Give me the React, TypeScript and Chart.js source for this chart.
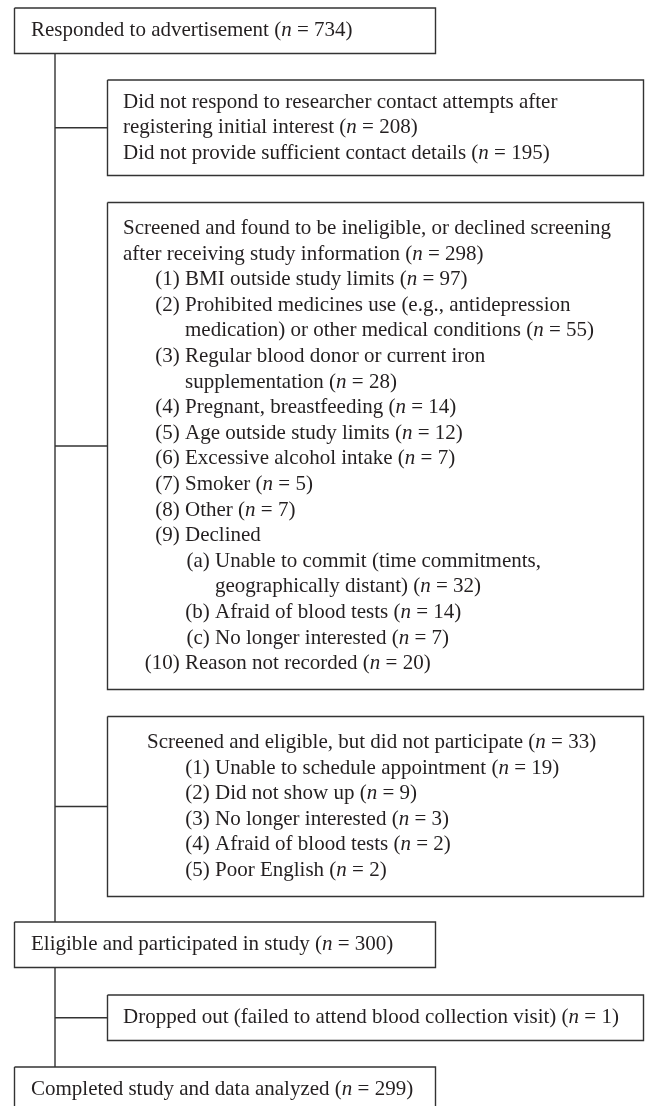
import { useEffect, useRef } from "react";
import { Chart, registerables } from "chart.js";

Chart.register(...registerables);

// ---------------- data ----------------
const stageLabels = [
  "Responded to advertisement",
  "Eligible and participated in study",
  "Completed study and data analyzed",
];
const stageCounts = [734, 300, 299];

const noContactReasons = [
  "Did not respond to researcher contact attempts after\nregistering initial interest",
  "Did not provide sufficient contact details",
];
const noContactCounts = [208, 195];

const ineligibleHeader =
  "Screened and found to be ineligible, or declined screening\nafter receiving study information";
const ineligibleTotal = 298;
const ineligibleLabels = ["(1)", "(2)", "(3)", "(4)", "(5)", "(6)", "(7)", "(8)", "(9)", "(a)", "(b)", "(c)", "(10)"];
const ineligibleReasons = [
  "BMI outside study limits",
  "Prohibited medicines use (e.g., antidepression\nmedication) or other medical conditions",
  "Regular blood donor or current iron\nsupplementation",
  "Pregnant, breastfeeding",
  "Age outside study limits",
  "Excessive alcohol intake",
  "Smoker",
  "Other",
  "Declined",
  "Unable to commit (time commitments,\ngeographically distant)",
  "Afraid of blood tests",
  "No longer interested",
  "Reason not recorded",
];
const ineligibleCounts: (number | null)[] = [97, 55, 28, 14, 12, 7, 5, 7, null, 32, 14, 7, 20];
const ineligibleLevels = [1, 1, 1, 1, 1, 1, 1, 1, 1, 2, 2, 2, 1];

const notParticipatedHeader = "Screened and eligible, but did not participate";
const notParticipatedTotal = 33;
const notParticipatedLabels = ["(1)", "(2)", "(3)", "(4)", "(5)"];
const notParticipatedReasons = [
  "Unable to schedule appointment",
  "Did not show up",
  "No longer interested",
  "Afraid of blood tests",
  "Poor English",
];
const notParticipatedCounts = [19, 9, 3, 2, 2];

const droppedLabel = "Dropped out (failed to attend blood collection visit)";
const droppedCount = 1;

// ---------------- layout / style ----------------
const W = 645;
const H = 1106;
const SPINE_X = 55;
const LEFT_L = 14.5;
const LEFT_R = 435.5;
const RIGHT_L = 107.5;
const RIGHT_R = 643.5;
const STAGE_TOPS = [8, 922, 1067];
const STAGE_H = 45.5;
const LINE_H = 25.6;
const FONT_SIZE = 21;
const FONT_FAMILY = '"Liberation Serif", "Times New Roman", serif';
const TEXT_COLOR = "#231f20";
const LINE_COLOR = "#333333";

type Line = { level: number; label?: string; text: string; n?: number | null };
type Box = { l: number; r: number; t: number; b: number; levelX: number[]; lines: Line[] };

function expand(level: number, text: string, n: number | null | undefined, label?: string): Line[] {
  const parts = text.split("\n");
  return parts.map((p, i) => ({
    level,
    label: i === 0 ? label : undefined,
    text: p,
    n: i === parts.length - 1 ? n : undefined,
  }));
}

function buildBoxes(): Box[] {
  const boxes: Box[] = [];
  stageLabels.forEach((s, i) => {
    boxes.push({
      l: LEFT_L,
      r: LEFT_R,
      t: STAGE_TOPS[i],
      b: STAGE_TOPS[i] + STAGE_H,
      levelX: [31],
      lines: expand(0, s, stageCounts[i]),
    });
  });
  const b2: Line[] = [];
  noContactReasons.forEach((r, i) => b2.push(...expand(0, r, noContactCounts[i])));
  boxes.push({ l: RIGHT_L, r: RIGHT_R, t: 80, b: 175.5, levelX: [123], lines: b2 });
  const b3: Line[] = [...expand(0, ineligibleHeader, ineligibleTotal)];
  ineligibleReasons.forEach((r, i) =>
    b3.push(...expand(ineligibleLevels[i], r, ineligibleCounts[i], ineligibleLabels[i]))
  );
  boxes.push({ l: RIGHT_L, r: RIGHT_R, t: 202.5, b: 689.5, levelX: [123, 185, 215], lines: b3 });
  const b4: Line[] = [...expand(0, notParticipatedHeader, notParticipatedTotal)];
  notParticipatedReasons.forEach((r, i) =>
    b4.push(...expand(1, r, notParticipatedCounts[i], notParticipatedLabels[i]))
  );
  boxes.push({ l: RIGHT_L, r: RIGHT_R, t: 716.5, b: 896.5, levelX: [147, 215], lines: b4 });
  boxes.push({ l: RIGHT_L, r: RIGHT_R, t: 995, b: 1040.5, levelX: [123], lines: expand(0, droppedLabel, droppedCount) });
  return boxes;
}

function rectPoints(b: Box) {
  return [
    { x: b.l, y: b.t },
    { x: b.r, y: b.t },
    { x: b.r, y: b.b },
    { x: b.l, y: b.b },
    { x: b.l, y: b.t },
  ];
}

export default function App() {
  const ref = useRef<HTMLCanvasElement | null>(null);

  useEffect(() => {
    if (!ref.current) return;
    const boxes = buildBoxes();
    const lineStyle = {
      showLine: true,
      pointRadius: 0,
      borderColor: LINE_COLOR,
      borderWidth: 1.4,
      fill: false,
      tension: 0,
    };
    const datasets: any[] = boxes.map((b) => ({ ...lineStyle, data: rectPoints(b) }));
    datasets.push({ ...lineStyle, data: [{ x: SPINE_X, y: boxes[0].b }, { x: SPINE_X, y: boxes[1].t }] });
    datasets.push({ ...lineStyle, data: [{ x: SPINE_X, y: boxes[1].b }, { x: SPINE_X, y: boxes[2].t }] });
    boxes.slice(3).forEach((b) => {
      const m = (b.t + b.b) / 2;
      datasets.push({ ...lineStyle, data: [{ x: SPINE_X, y: m }, { x: b.l, y: m }] });
    });

    const textPlugin = {
      id: "flowText",
      afterDatasetsDraw(chart: any) {
        const ctx: CanvasRenderingContext2D = chart.ctx;
        const xs = chart.scales.x;
        const ys = chart.scales.y;
        const regular = `${FONT_SIZE}px ${FONT_FAMILY}`;
        const italic = `italic ${FONT_SIZE}px ${FONT_FAMILY}`;
        ctx.save();
        ctx.fillStyle = TEXT_COLOR;
        ctx.textBaseline = "middle";
        boxes.forEach((b) => {
          const c = (b.t + b.b) / 2;
          const y0 = c - ((b.lines.length - 1) / 2) * LINE_H;
          b.lines.forEach((ln, i) => {
            const py = ys.getPixelForValue(y0 + i * LINE_H);
            let px = xs.getPixelForValue(b.levelX[ln.level]);
            ctx.font = regular;
            const sp = ctx.measureText(" ").width;
            if (ln.label) {
              ctx.textAlign = "right";
              ctx.fillText(ln.label, px - sp, py);
            }
            ctx.textAlign = "left";
            let s = ln.text;
            if (ln.n !== undefined && ln.n !== null) s += " (";
            ctx.fillText(s, px, py);
            px += ctx.measureText(s).width;
            if (ln.n !== undefined && ln.n !== null) {
              ctx.font = italic;
              ctx.fillText("n", px, py);
              px += ctx.measureText("n").width;
              ctx.font = regular;
              ctx.fillText(" = " + ln.n + ")", px, py);
            }
          });
        });
        ctx.restore();
      },
    };

    const chart = new Chart(ref.current, {
      type: "scatter",
      data: { datasets },
      options: {
        animation: false,
        responsive: false,
        maintainAspectRatio: false,
        devicePixelRatio: 1,
        layout: { padding: 0 },
        events: [],
        plugins: { legend: { display: false }, tooltip: { enabled: false } },
        scales: {
          x: { type: "linear", min: 0, max: W, display: false },
          y: { type: "linear", min: 0, max: H, reverse: true, display: false },
        },
      },
      plugins: [textPlugin],
    } as any);
    return () => chart.destroy();
  }, []);

  return (
    <div style={{ position: "absolute", left: 0, top: 0, width: W, height: H, background: "#fff" }}>
      <canvas ref={ref} width={W} height={H} style={{ display: "block", width: W, height: H }} />
    </div>
  );
}
